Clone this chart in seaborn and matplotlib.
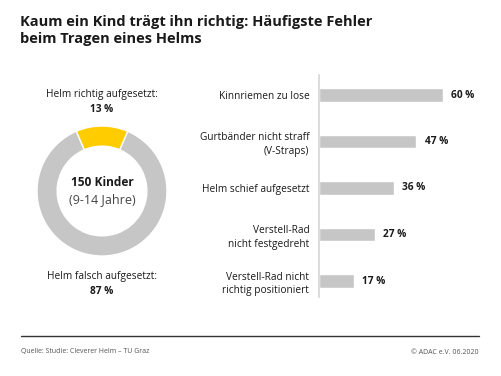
import matplotlib
matplotlib.use("Agg")
import matplotlib.pyplot as plt
import seaborn as sns
import pandas as pd

sns.set_theme(style="white")
plt.rcParams['font.family'] = ['Open Sans', 'DejaVu Sans']

title = "Kaum ein Kind trägt ihn richtig: Häufigste Fehler\nbeim Tragen eines Helms"
donut_labels = ["Helm richtig aufgesetzt", "Helm falsch aufgesetzt"]
donut_values = [13, 87]
center_main = "150 Kinder"
center_sub = "(9-14 Jahre)"
categories = ["Kinnriemen zu lose", "Gurtbänder nicht straff\n(V-Straps)",
              "Helm schief aufgesetzt", "Verstell-Rad\nnicht festgedreht",
              "Verstell-Rad nicht\nrichtig positioniert"]
values = [60, 47, 36, 27, 17]
source = "Quelle: Studie: Cleverer Helm – TU Graz"
copyright_text = "© ADAC e.V. 06.2020"

W, H = 501, 376
fig = plt.figure(figsize=(W / 100, H / 100), dpi=100)
fig.patch.set_facecolor("white")

def fx(px):
    return px / W

def fy(py):
    return 1 - py / H

dark = "#1a1a1a"
gray = "#c6c6c6"
yellow = "#ffcc00"

# Title
fig.text(fx(20), fy(15), title, ha="left", va="top", fontsize=10.5,
         fontweight="bold", color=dark, linespacing=1.3)

# Donut
cx, cy, r = 102, 191, 65
ax_d = fig.add_axes([fx(cx - r), fy(cy + r), fx(2 * r), (2 * r) / H])
ax_d.pie(donut_values, colors=[yellow, gray], startangle=90 + 360 * donut_values[0] / 200,
         counterclock=False, radius=1.0,
         wedgeprops=dict(width=0.31, edgecolor="white", linewidth=1.0))
ax_d.set_aspect("equal")
ax_d.set_xlim(-1, 1)
ax_d.set_ylim(-1, 1)
ax_d.axis("off")

fs = 7.3
fig.text(fx(cx), fy(95), donut_labels[0] + ":", ha="center", va="center", fontsize=fs, color=dark)
fig.text(fx(cx), fy(109), f"{donut_values[0]} %", ha="center", va="center", fontsize=fs,
         fontweight="bold", color=dark)
fig.text(fx(cx), fy(182), center_main, ha="center", va="center", fontsize=8.6,
         fontweight="bold", color=dark)
fig.text(fx(cx), fy(200), center_sub, ha="center", va="center", fontsize=9, color="#444444")
fig.text(fx(cx), fy(277), donut_labels[1] + ":", ha="center", va="center", fontsize=fs, color=dark)
fig.text(fx(cx), fy(291), f"{donut_values[1]} %", ha="center", va="center", fontsize=fs,
         fontweight="bold", color=dark)

# Bars
left, top, bottom = 319, 75, 297
px_per_pct = 2.07
xmax = 80
ax_b = fig.add_axes([fx(left), fy(bottom), fx(xmax * px_per_pct), (bottom - top) / H])
df = pd.DataFrame({"cat": categories, "val": values})
sns.barplot(data=df, x="val", y="cat", ax=ax_b, color=gray, width=0.3,
            saturation=1, orient="h")
spacing = 46.5
ax_b.set_ylim(4 + (bottom - 281) / spacing, -(95 - top) / spacing)
ax_b.set_xlim(0, xmax)
for s in ["top", "right", "bottom"]:
    ax_b.spines[s].set_visible(False)
ax_b.spines["left"].set_color("#d6d6d6")
ax_b.spines["left"].set_linewidth(1.2)
ax_b.set_xticks([])
ax_b.set_xlabel("")
ax_b.set_ylabel("")
ax_b.tick_params(axis="y", length=0, pad=7, labelsize=fs, labelcolor=dark)
for lbl in ax_b.get_yticklabels():
    lbl.set_horizontalalignment("right")
    lbl.set_linespacing(1.35)
for i, v in enumerate(values):
    ax_b.text(v + 4.0, i, f"{v} %", va="center", ha="left", fontsize=fs,
              fontweight="bold", color=dark)

# Footer
fig.add_artist(plt.Line2D([fx(21), fx(479)], [fy(336), fy(336)], color="#333333", linewidth=1.0))
fig.text(fx(21), fy(352), source, ha="left", va="center", fontsize=5.0, color="#555555")
fig.text(fx(479), fy(352), copyright_text, ha="right", va="center", fontsize=5.0, color="#555555")

fig.savefig("out.png", dpi=100, facecolor="white")
